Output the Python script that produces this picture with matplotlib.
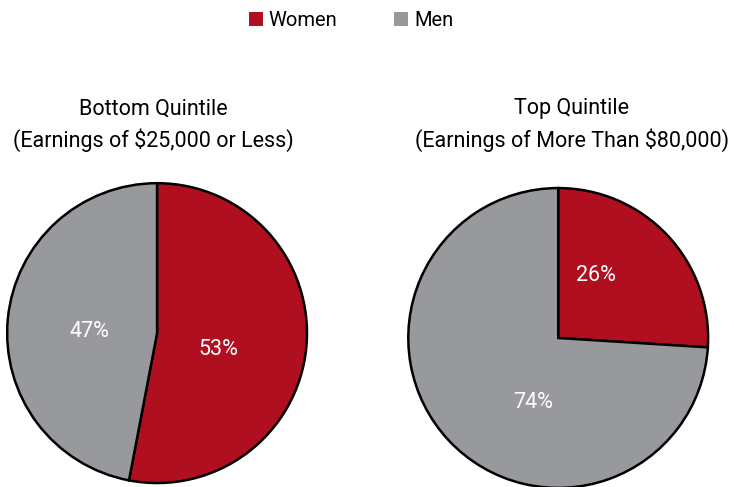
import matplotlib
matplotlib.use('Agg')
import matplotlib.pyplot as plt
from matplotlib.patches import Patch

plt.rcParams['font.family'] = ['Roboto', 'DejaVu Sans']

# Data
groups = ['Women', 'Men']
bottom_quintile = [53, 47]
top_quintile = [26, 74]
titles = ['Bottom Quintile\n(Earnings of $25,000 or Less)',
          'Top Quintile\n(Earnings of More Than $80,000)']
colors = ['#B00F1F', '#98999D']

# label spots inside each pie (fraction of radius), as in the original
label_pos = [[(0.41, -0.11), (-0.45, 0.01)],
             [(0.25, 0.42), (-0.17, -0.43)]]

fig = plt.figure(figsize=(7.34, 4.87), dpi=100)

ax1 = fig.add_axes([0.0055, 0.002, 0.417, 0.628])
ax2 = fig.add_axes([0.552, -0.008, 0.417, 0.628])

for ax, vals, pos in zip([ax1, ax2], [bottom_quintile, top_quintile], label_pos):
    wedges, texts, autotexts = ax.pie(
        vals, colors=colors, startangle=90, counterclock=False,
        autopct=lambda p: '%d%%' % round(p), pctdistance=0.45,
        wedgeprops=dict(edgecolor='black', linewidth=1.8),
        textprops=dict(color='white', fontsize=15.5))
    for t, p in zip(autotexts, pos):
        t.set_position(p)
    ax.set_xlim(-1.02, 1.02)
    ax.set_ylim(-1.02, 1.02)
    ax.set_aspect('equal')

fig.text(153.5 / 734, 1 - 125 / 487, titles[0], ha='center', va='center',
         fontsize=15.5, linespacing=1.5)
fig.text(572 / 734, 1 - 125 / 487, titles[1], ha='center', va='center',
         fontsize=15.5, linespacing=1.5)

handles = [Patch(facecolor=c, edgecolor='none') for c in colors]
fig.legend(handles, groups, loc='upper center', bbox_to_anchor=(0.478, 1.015), ncol=2,
           frameon=False, fontsize=14.5, handlelength=0.7, handleheight=0.7,
           handletextpad=0.3, columnspacing=2.8)

fig.savefig('out.png', dpi=100)
